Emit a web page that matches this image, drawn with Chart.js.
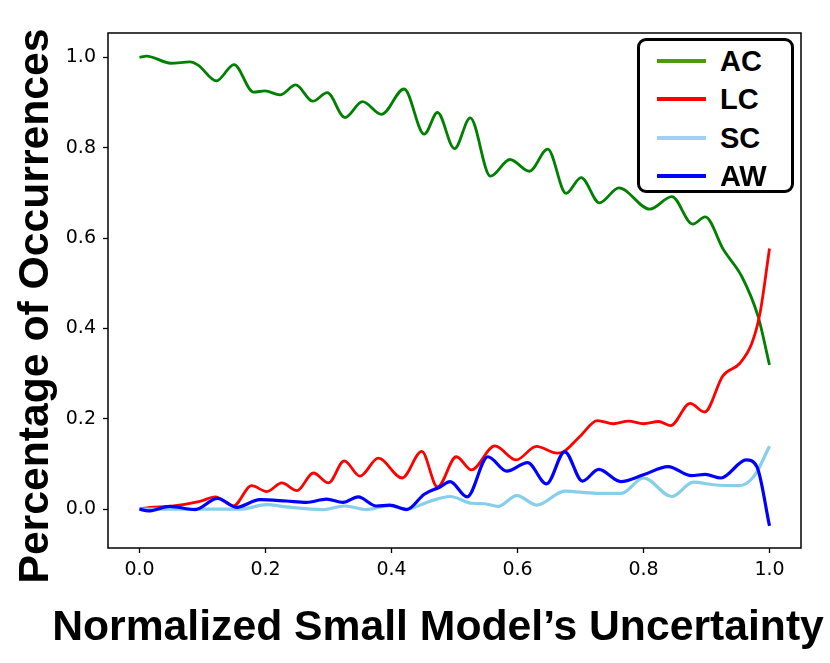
<!DOCTYPE html>
<html>
<head>
<meta charset="utf-8">
<script src="https://cdn.jsdelivr.net/npm/chart.js@4.4.1/dist/chart.umd.min.js"></script>
<style>
  html, body { margin: 0; padding: 0; background: #fff; }
  #wrap { position: relative; width: 830px; height: 663px; }
  #legend {
    position: absolute; left: 637px; top: 38px; width: 151px; height: 149px;
    border: 3px solid #000; border-radius: 9px; background: #fff;
    font: bold 29px "Liberation Sans", Arial, sans-serif; color: #000;
  }
  .row { position: absolute; left: 0; width: 100%; height: 36px; }
  .swatch { position: absolute; left: 17px; width: 49px; height: 4px; top: 16px; }
  .lbl { position: absolute; left: 80px; top: 0; line-height: 36px; }
</style>
</head>
<body>
<div id="wrap">
  <canvas id="chart" width="830" height="663"></canvas>
  <div id="legend"></div>
</div>
<script>
// values
const acX = [0.000, 0.011, 0.050, 0.080, 0.093, 0.122, 0.150, 0.181, 0.199, 0.223, 0.248, 0.275, 0.298, 0.326, 0.354, 0.384, 0.420, 0.452, 0.473, 0.500, 0.525, 0.557, 0.588, 0.619, 0.648, 0.677, 0.701, 0.730, 0.761, 0.810, 0.845, 0.878, 0.898, 0.927, 0.956, 0.982, 1.000];
const acY = [1.000, 1.003, 0.987, 0.990, 0.983, 0.948, 0.984, 0.923, 0.926, 0.917, 0.939, 0.903, 0.922, 0.867, 0.902, 0.874, 0.930, 0.830, 0.878, 0.798, 0.866, 0.737, 0.774, 0.748, 0.797, 0.699, 0.734, 0.678, 0.711, 0.664, 0.692, 0.631, 0.647, 0.574, 0.515, 0.426, 0.319];

const lcX = [0.000, 0.017, 0.048, 0.096, 0.120, 0.149, 0.178, 0.202, 0.226, 0.250, 0.276, 0.300, 0.325, 0.350, 0.379, 0.417, 0.448, 0.473, 0.503, 0.527, 0.564, 0.598, 0.630, 0.663, 0.673, 0.699, 0.727, 0.752, 0.776, 0.800, 0.824, 0.843, 0.874, 0.897, 0.926, 0.953, 0.972, 0.985, 1.000];
const lcY = [0.000, 0.004, 0.006, 0.017, 0.027, 0.007, 0.052, 0.039, 0.058, 0.041, 0.080, 0.058, 0.107, 0.073, 0.113, 0.069, 0.128, 0.049, 0.116, 0.087, 0.140, 0.109, 0.139, 0.124, 0.127, 0.161, 0.196, 0.189, 0.195, 0.189, 0.194, 0.185, 0.234, 0.215, 0.295, 0.323, 0.367, 0.434, 0.577];

const scX = [0.000, 0.160, 0.202, 0.233, 0.291, 0.326, 0.360, 0.397, 0.424, 0.458, 0.493, 0.528, 0.548, 0.569, 0.599, 0.631, 0.675, 0.725, 0.765, 0.800, 0.845, 0.879, 0.911, 0.951, 0.975, 1.000];
const scY = [0.000, 0.000, 0.010, 0.005, -0.001, 0.007, -0.001, 0.008, 0.000, 0.016, 0.028, 0.013, 0.012, 0.006, 0.030, 0.009, 0.040, 0.035, 0.035, 0.069, 0.028, 0.060, 0.054, 0.052, 0.072, 0.139];

const awX = [0.000, 0.014, 0.048, 0.088, 0.124, 0.154, 0.191, 0.233, 0.265, 0.297, 0.323, 0.347, 0.376, 0.397, 0.424, 0.452, 0.477, 0.493, 0.520, 0.553, 0.583, 0.616, 0.646, 0.675, 0.703, 0.729, 0.764, 0.800, 0.839, 0.876, 0.898, 0.923, 0.963, 0.980, 1.000];
const awY = [0.000, -0.004, 0.006, -0.001, 0.024, 0.004, 0.021, 0.018, 0.015, 0.022, 0.015, 0.027, 0.007, 0.009, -0.001, 0.033, 0.049, 0.061, 0.027, 0.116, 0.084, 0.103, 0.056, 0.127, 0.062, 0.088, 0.061, 0.076, 0.094, 0.074, 0.077, 0.069, 0.109, 0.094, -0.037];

const seriesNames = ['AC', 'LC', 'SC', 'AW'];
const xTicks = [0.0, 0.2, 0.4, 0.6, 0.8, 1.0];
const yTicks = [0.0, 0.2, 0.4, 0.6, 0.8, 1.0];
const xTitle = 'Normalized Small Model\u2019s Uncertainty';
const yTitle = 'Percentage of Occurrences';

const lineColors = ['#008000', '#ff0000', '#87ceeb', '#0000ff'];
const legendColors = ['#4f9a0a', '#ff0000', '#9fd0f8', '#0000ff'];
const lineWidths = [2.8, 2.8, 3.2, 3.2];

const toPoints = (xs, ys) => xs.map((x, i) => ({ x: x, y: ys[i] }));
const allX = [acX, lcX, scX, awX];
const allY = [acY, lcY, scY, awY];

// legend box (drawn as html over the canvas)
const legendEl = document.getElementById('legend');
seriesNames.forEach((name, i) => {
    const row = document.createElement('div');
    row.className = 'row';
    row.style.top = (2 + i * 38.3) + 'px';
    row.innerHTML = `<div class="swatch" style="background:${legendColors[i]}"></div><div class="lbl">${name}</div>`;
    legendEl.appendChild(row);
});

// frame + axis titles
const framePlugin = {
    id: 'frame',
    afterDraw(chart) {
        const { ctx, chartArea: a } = chart;
        ctx.save();
        ctx.strokeStyle = '#000';
        ctx.lineWidth = 1.5;
        ctx.strokeRect(a.left, a.top, a.right - a.left, a.bottom - a.top);

        ctx.fillStyle = '#000';
        ctx.font = 'bold 42.7px "Liberation Sans", Arial, sans-serif';
        ctx.textAlign = 'center';
        ctx.textBaseline = 'alphabetic';
        ctx.fillText(xTitle, 438, 640);

        ctx.translate(48, 306);
        ctx.rotate(-Math.PI / 2);
        ctx.fillText(yTitle, 0, 0);
        ctx.restore();
    }
};

const tickFont = { family: "'DejaVu Sans', sans-serif", size: 19 };

new Chart(document.getElementById('chart').getContext('2d'), {
    type: 'scatter',
    data: {
        datasets: seriesNames.map((name, i) => ({
            label: name,
            data: toPoints(allX[i], allY[i]),
            showLine: true,
            borderColor: lineColors[i],
            borderWidth: lineWidths[i],
            pointRadius: 0,
            cubicInterpolationMode: 'monotone',
            order: seriesNames.length - i
        }))
    },
    options: {
        responsive: false,
        animation: false,
        devicePixelRatio: 1,
        layout: { padding: { top: 33, right: 29, left: 0, bottom: 0 } },
        plugins: {
            legend: { display: false },
            tooltip: { enabled: false }
        },
        scales: {
            x: {
                type: 'linear',
                min: -0.05,
                max: 1.05,
                border: { display: false },
                grid: { drawOnChartArea: false, drawTicks: true, tickLength: 5, tickColor: '#000', tickWidth: 1.3 },
                ticks: { color: '#000', font: tickFont, padding: 6, maxRotation: 0, callback: v => v.toFixed(1) },
                afterBuildTicks: s => { s.ticks = xTicks.map(v => ({ value: v })); },
                afterFit: s => { s.height = 115; }
            },
            y: {
                type: 'linear',
                min: -0.086,
                max: 1.054,
                border: { display: false },
                grid: { drawOnChartArea: false, drawTicks: true, tickLength: 5, tickColor: '#000', tickWidth: 1.3 },
                ticks: { color: '#000', font: tickFont, padding: 7, callback: v => v.toFixed(1) },
                afterBuildTicks: s => { s.ticks = yTicks.map(v => ({ value: v })); },
                afterFit: s => { s.width = 108; }
            }
        }
    },
    plugins: [framePlugin]
});
</script>
</body>
</html>
